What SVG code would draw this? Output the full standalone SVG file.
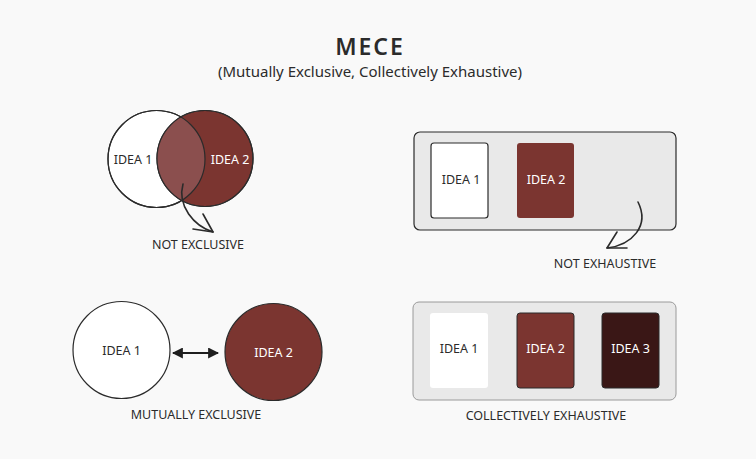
<svg xmlns="http://www.w3.org/2000/svg" width="756" height="459" viewBox="0 0 756 459">
<defs>
<style>
text{font-family:"Noto Sans","Open Sans",sans-serif;fill:#2b2b2b;text-anchor:middle}
.lbl{font-size:12.5px}
.in{font-size:12.5px}
.w{fill:#ffffff}
.ln{fill:none;stroke:#2b2b2b;stroke-width:1.6;stroke-linecap:round;stroke-linejoin:round}
.maroon{fill:#7b3530}
</style>
<marker id="ah" viewBox="0 0 10 10" refX="9" refY="5" markerWidth="11" markerHeight="11" orient="auto-start-reverse" markerUnits="userSpaceOnUse">
<path d="M0,0 L10,5 L0,10 Z" fill="#1e1e1e"/>
</marker>
<clipPath id="c1"><circle cx="156.5" cy="159" r="48.5"/></clipPath>
</defs>
<rect width="756" height="459" fill="#f9f9f9"/>

<g id="title">
<text x="370" y="55" style="font-size:23px;font-weight:600;letter-spacing:2px">MECE</text>
<text x="370" y="77" style="font-size:15px">(Mutually Exclusive, Collectively Exhaustive)</text>
</g>

<g id="venn">
<circle cx="156.5" cy="159" r="48.5" fill="#ffffff" stroke="#2b2b2b" stroke-width="1.2"/>
<circle cx="205" cy="158.5" r="48" class="maroon" stroke="#2b2b2b" stroke-width="1.2"/>
<circle cx="205" cy="158.5" r="48" fill="#8b4f4e" clip-path="url(#c1)"/>
<circle cx="156.5" cy="159" r="48.5" fill="none" stroke="#2b2b2b" stroke-width="1.2"/>
<circle cx="205" cy="158.5" r="48" fill="none" stroke="#2b2b2b" stroke-width="1.2"/>
<text class="in" x="133" y="164">IDEA 1</text>
<text class="in w" x="230" y="164">IDEA 2</text>
<text class="lbl" x="198" y="249">NOT EXCLUSIVE</text>
</g>

<g id="not-exhaustive">
<rect x="414" y="132" width="262" height="98" rx="6" fill="#e9e9e9" stroke="#2b2b2b" stroke-width="1.2"/>
<rect x="431" y="143" width="57" height="75" rx="3" fill="#ffffff" stroke="#2b2b2b" stroke-width="1.2"/>
<text class="in" x="461" y="184">IDEA 1</text>
<rect x="517" y="143" width="57" height="75" rx="3" class="maroon"/>
<text class="in w" x="546" y="184">IDEA 2</text>
<text class="lbl" x="605" y="268">NOT EXHAUSTIVE</text>
</g>

<g id="mutually-exclusive">
<circle cx="121.5" cy="350" r="48.5" fill="#ffffff" stroke="#2b2b2b" stroke-width="1.2"/>
<text class="in" x="121.5" y="355">IDEA 1</text>
<circle cx="273.5" cy="352" r="48.5" class="maroon" stroke="#2b2b2b" stroke-width="1.2"/>
<text class="in w" x="273.5" y="357">IDEA 2</text>
<text class="lbl" x="196" y="419">MUTUALLY EXCLUSIVE</text>
</g>

<g id="collectively-exhaustive">
<rect x="413" y="302" width="263" height="98" rx="6" fill="#e9e9e9" stroke="#9a9a9a" stroke-width="1"/>
<rect x="430" y="313" width="58" height="75" rx="3" fill="#ffffff"/>
<text class="in" x="459" y="353">IDEA 1</text>
<rect x="517" y="313" width="57" height="75" rx="3" class="maroon" stroke="#2b2b2b" stroke-width="1"/>
<text class="in w" x="545.5" y="353">IDEA 2</text>
<rect x="602" y="313" width="57" height="75" rx="3" fill="#3a1716" stroke="#2b2b2b" stroke-width="1"/>
<text class="in w" x="630.5" y="353">IDEA 3</text>
<text class="lbl" x="546" y="420">COLLECTIVELY EXHAUSTIVE</text>
</g>

<g id="connectors">
<path class="ln" d="M183,184 C177,206 194,226 213,232"/>
<path class="ln" d="M203,214 L213,232 L193,229"/>
<path class="ln" d="M638,202 C650,226 632,245 607,248"/>
<path class="ln" d="M617,232 L607,248 L627,248"/>
<line x1="173" y1="353" x2="218" y2="353" stroke="#1e1e1e" stroke-width="1.8" marker-start="url(#ah)" marker-end="url(#ah)"/>
</g>
</svg>
